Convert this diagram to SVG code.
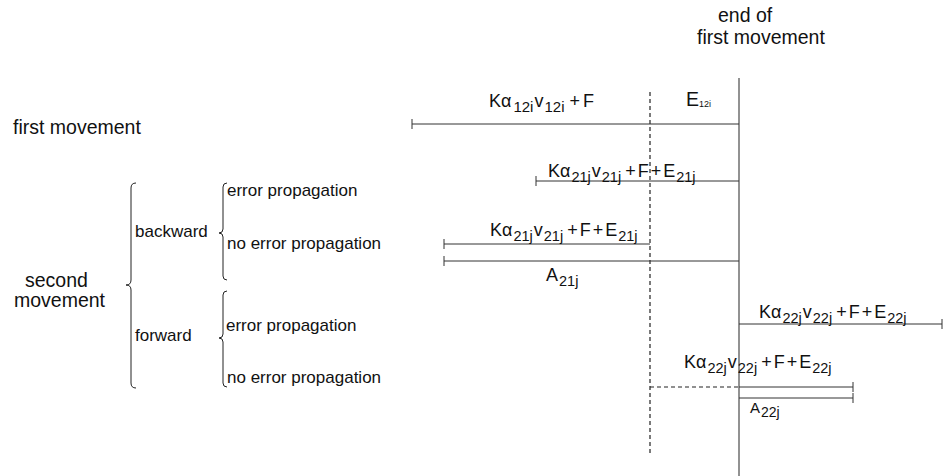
<svg xmlns="http://www.w3.org/2000/svg" width="949" height="476" viewBox="0 0 949 476">
  <style>
    text { font-family: "Liberation Sans", Arial, sans-serif; fill: #111; }
    .big { font-size: 19.5px; }
    .mid { font-size: 17px; }
    .f { font-size: 18px; }
    .s { font-size: 14.5px; }
    .tiny { font-size: 9px; }
    .seg { stroke: #333; stroke-width: 1; fill: none; }
    .axis { stroke: #777; stroke-width: 1.6; fill: none; }
    .dash { stroke: #222; stroke-width: 1.2; stroke-dasharray: 4 3; fill: none; }
    .brace { stroke: #222; stroke-width: 1; fill: none; }
  </style>

  <rect width="949" height="476" fill="#fff"/>

  <!-- reference axes -->
  <g id="axes">
    <line class="axis" x1="739" y1="78" x2="739" y2="476"/>
    <line class="dash" x1="650" y1="92" x2="650" y2="454"/>
    <text class="big" x="718" y="22">end of</text>
    <text class="big" x="697" y="44">first movement</text>
  </g>

  <!-- row labels and braces -->
  <g id="labels">
    <text class="big" x="13" y="134">first movement</text>
    <text class="big" x="25" y="287">second</text>
    <text class="big" x="14" y="307">movement</text>
    <path class="brace" d="M136 183 Q131 183 131 188 L131 280 Q131 285 126 285 Q131 285 131 290 L131 383 Q131 388 136 388"/>
    <text class="mid" x="135" y="237">backward</text>
    <text class="mid" x="135" y="341">forward</text>
    <path class="brace" d="M227 183 Q223 183 223 187 L223 229 Q223 233 219 233 Q223 233 223 237 L223 276 Q223 280 227 280"/>
    <path class="brace" d="M227 291 Q223 291 223 295 L223 334 Q223 338 219 338 Q223 338 223 342 L223 383 Q223 387 227 387"/>
    <text class="mid" x="227" y="196">error propagation</text>
    <text class="mid" x="227" y="249">no error propagation</text>
    <text class="mid" x="226" y="331">error propagation</text>
    <text class="mid" x="227" y="383">no error propagation</text>
  </g>

  <!-- interval segments -->
  <g id="connectors">
    <path class="seg" d="M412 124 H739 M412 119 V129"/>
    <path class="seg" d="M536 181 H739 M536 176 V186"/>
    <path class="seg" d="M444 244 H650 M444 239 V249"/>
    <path class="seg" d="M444 261 H739 M444 256 V266"/>
    <path class="seg" d="M739 324 H942 M942 319 V329"/>
    <line class="dash" x1="650" y1="387" x2="739" y2="387"/>
    <path class="seg" d="M739 387 H853 M853 382 V392"/>
    <path class="seg" d="M739 398 H853 M853 393 V403"/>
  </g>

  <!-- segment formulas -->
  <g id="formulas">
    <text class="f" x="489" y="107">Kα<tspan style="font-size:15px" dx="2" dy="4.5">12i</tspan><tspan dx="1" dy="-4.5">v</tspan><tspan style="font-size:15px" dx="1" dy="4.5">12i</tspan><tspan dx="5" dy="-4.5">+</tspan><tspan dx="3">F</tspan></text>
    <text class="big" x="686" y="106">E<tspan class="tiny" dy="1">12i</tspan></text>

    <text class="f" x="548" y="177">Kα<tspan class="s" dx="1" dy="4.5">21j</tspan><tspan dx="1" dy="-4.5">v</tspan><tspan class="s" dx="1" dy="4.5">21j</tspan><tspan dx="4" dy="-4.5">+</tspan><tspan dx="2">F</tspan><tspan dx="2">+</tspan><tspan dx="2">E</tspan><tspan class="s" dx="1" dy="4.5">21j</tspan></text>

    <text class="f" x="490" y="236">Kα<tspan class="s" dx="1" dy="4.5">21j</tspan><tspan dx="1" dy="-4.5">v</tspan><tspan class="s" dx="1" dy="4.5">21j</tspan><tspan dx="4" dy="-4.5">+</tspan><tspan dx="2">F</tspan><tspan dx="2">+</tspan><tspan dx="2">E</tspan><tspan class="s" dx="1" dy="4.5">21j</tspan></text>
    <text class="f" x="546" y="281">A<tspan class="s" dx="1" dy="4.5">21j</tspan></text>

    <text class="f" x="759" y="318">Kα<tspan class="s" dx="1" dy="4.5">22j</tspan><tspan dx="1" dy="-4.5">v</tspan><tspan class="s" dx="1" dy="4.5">22j</tspan><tspan dx="4" dy="-4.5">+</tspan><tspan dx="2">F</tspan><tspan dx="2">+</tspan><tspan dx="2">E</tspan><tspan class="s" dx="1" dy="4.5">22j</tspan></text>

    <text class="f" x="684" y="368">Kα<tspan class="s" dx="1" dy="4.5">22j</tspan><tspan dx="1" dy="-4.5">v</tspan><tspan class="s" dx="1" dy="4.5">22j</tspan><tspan dx="4" dy="-4.5">+</tspan><tspan dx="2">F</tspan><tspan dx="2">+</tspan><tspan dx="2">E</tspan><tspan class="s" dx="1" dy="4.5">22j</tspan></text>
    <text x="750" y="413" style="font-size:15px">A<tspan style="font-size:14px" dx="1" dy="3.5">22j</tspan></text>
  </g>
</svg>
